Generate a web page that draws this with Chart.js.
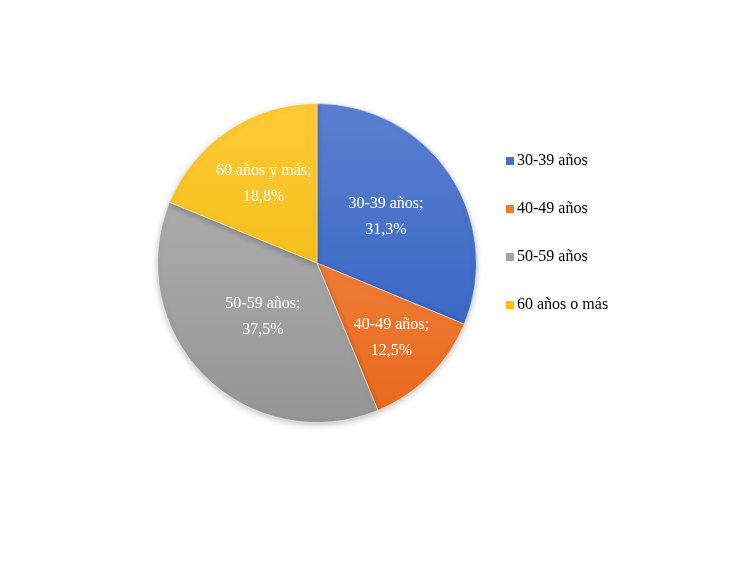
<!DOCTYPE html>
<html lang="es">
<head>
    <meta charset="UTF-8">
    <title>Distribución por edad</title>
    <script src="https://cdn.jsdelivr.net/npm/chart.js"></script>
    <style>
        body {
            margin: 0;
            background: #fff;
            font-family: Georgia, "Liberation Serif", "DejaVu Serif", serif;
        }
        #wrap {
            position: relative;
            width: 750px;
            height: 562px;
        }
        #legend {
            position: absolute;
            left: 506px;
            top: 150px;
            font-size: 16px;
            color: #000;
        }
        #legend div {
            height: 20px;
            line-height: 20px;
            margin-bottom: 28px;
            white-space: nowrap;
        }
        #legend span.box {
            display: inline-block;
            width: 8px;
            height: 8px;
            margin-right: 3px;
            vertical-align: 0px;
        }
    </style>
</head>
<body>
    <div id="wrap">
        <canvas id="chartCanvas" width="750" height="562"></canvas>
        <div id="legend"></div>
    </div>

    <script>
        // datos
        const categorias = ['30-39 años', '40-49 años', '50-59 años', '60 años o más'];
        const etiquetas = ['30-39 años', '40-49 años', '50-59 años', '60 años y más'];
        const porcentajes = [31.3, 12.5, 37.5, 18.8];
        const colores = ['#4472c4', '#ed7d31', '#a5a5a5', '#ffc000'];

        // degradado vertical (claro arriba, oscuro abajo)
        const degradados = [
            ['#5b80d0', '#2c5dbe'],
            ['#f39255', '#e8681a'],
            ['#b5b5b5', '#959595'],
            ['#ffca36', '#e9b500']
        ];

        // posición radial de cada etiqueta (fracción del radio)
        const factorEtiqueta = [0.52, 0.66, 0.48, 0.60];

        function relleno(context) {
            const chart = context.chart;
            const area = chart.chartArea;
            if (!area) return colores[context.dataIndex];
            const g = chart.ctx.createLinearGradient(0, area.top, 0, area.bottom);
            g.addColorStop(0, degradados[context.dataIndex][0]);
            g.addColorStop(1, degradados[context.dataIndex][1]);
            return g;
        }

        const sombra = {
            id: 'sombra',
            beforeDatasetsDraw(chart) {
                const ctx = chart.ctx;
                ctx.save();
                ctx.shadowColor = 'rgba(0,0,0,0.25)';
                ctx.shadowBlur = 6;
                ctx.shadowOffsetY = 2;
            },
            afterDatasetsDraw(chart) {
                chart.ctx.restore();
            }
        };

        const rotulos = {
            id: 'rotulos',
            afterDatasetsDraw(chart) {
                const ctx = chart.ctx;
                const meta = chart.getDatasetMeta(0);
                ctx.save();
                ctx.fillStyle = '#fff';
                ctx.font = '16px Georgia, "Liberation Serif", "DejaVu Serif", serif';
                ctx.textAlign = 'center';
                ctx.textBaseline = 'middle';
                meta.data.forEach((arc, i) => {
                    const mid = (arc.startAngle + arc.endAngle) / 2;
                    const r = arc.outerRadius * factorEtiqueta[i];
                    const x = arc.x + Math.cos(mid) * r;
                    const y = arc.y + Math.sin(mid) * r;
                    const valor = porcentajes[i].toFixed(1).replace('.', ',') + '%';
                    ctx.fillText(etiquetas[i] + ';', x, y - 13);
                    ctx.fillText(valor, x, y + 13);
                });
                ctx.restore();
            }
        };

        new Chart(document.getElementById('chartCanvas'), {
            type: 'pie',
            data: {
                labels: categorias,
                datasets: [{
                    data: porcentajes,
                    backgroundColor: relleno,
                    borderColor: 'rgba(255,255,255,0.55)',
                    borderWidth: 1
                }]
            },
            options: {
                responsive: false,
                animation: false,
                layout: {
                    padding: { left: 157, right: 273, top: 103, bottom: 139 }
                },
                plugins: {
                    legend: { display: false },
                    tooltip: { enabled: false }
                }
            },
            plugins: [sombra, rotulos]
        });

        // leyenda a la derecha
        const legend = document.getElementById('legend');
        categorias.forEach((c, i) => {
            const item = document.createElement('div');
            const box = document.createElement('span');
            box.className = 'box';
            box.style.background = colores[i];
            item.appendChild(box);
            item.appendChild(document.createTextNode(c));
            legend.appendChild(item);
        });
    </script>
</body>
</html>
